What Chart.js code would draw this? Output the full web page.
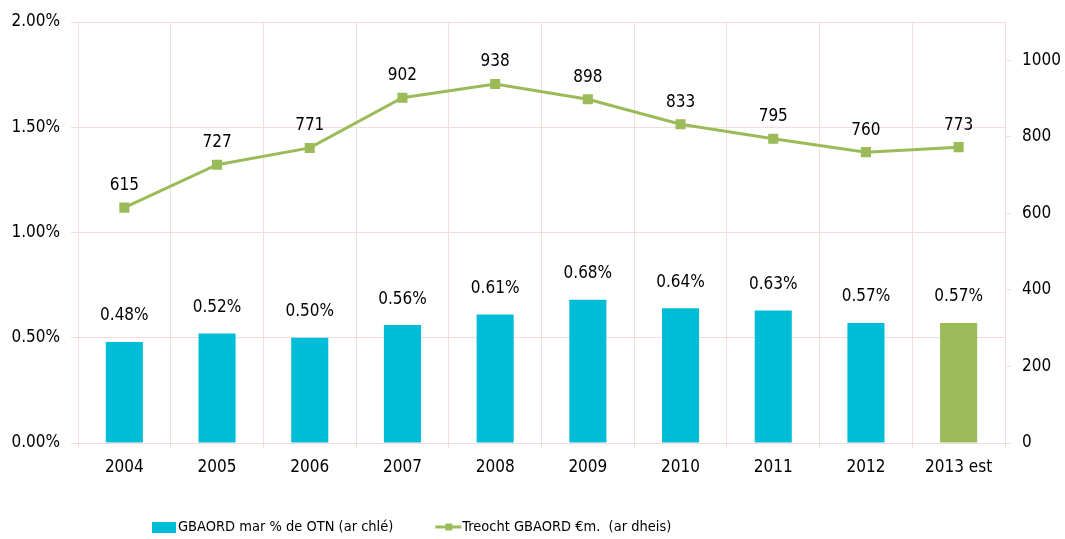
<!DOCTYPE html>
<html>
<head>
<meta charset="utf-8">
<script src="https://cdn.jsdelivr.net/npm/chart.js@4/dist/chart.umd.min.js"></script>
<style>
  html, body { margin: 0; padding: 0; background: #fff; }
  #wrap { width: 1065px; height: 539px; }
</style>
</head>
<body>
<div id="wrap"><canvas id="myChart" width="1065" height="539"></canvas></div>
<script>
'use strict';

let years = ["2004", "2005", "2006", "2007", "2008", "2009", "2010", "2011", "2012", "2013 est"];
let gbaordPct = [0.48, 0.52, 0.50, 0.56, 0.61, 0.68, 0.64, 0.63, 0.57, 0.57];
let gbaordMillions = [615, 727, 771, 902, 938, 898, 833, 795, 760, 773];
let leftTicks = [0, 0.5, 1.0, 1.5, 2.0];
let rightTicks = [0, 200, 400, 600, 800, 1000];
let seriesNames = ["GBAORD mar % de OTN (ar chlé)", "Treocht GBAORD €m.  (ar dheis)"];

let cyan = '#00BDD7';
let green = '#9BBB59';
let gridPink = '#F3DCDC';
let fontFamily = '"DejaVu Sans Condensed", "Liberation Sans", sans-serif';

function barColour(ctx) {
    return years[ctx.dataIndex].indexOf('est') >= 0 ? green : cyan;
}

// value labels above bars and points
let valueLabels = {
    id: 'valueLabels',
    afterDatasetsDraw(chart) {
        let ctx = chart.ctx;
        ctx.save();
        ctx.font = '17px ' + fontFamily;
        ctx.fillStyle = '#000';
        ctx.textAlign = 'center';
        ctx.textBaseline = 'middle';
        let barMeta = chart.getDatasetMeta(0);
        barMeta.data.forEach(function (bar, i) {
            ctx.fillText(gbaordPct[i].toFixed(2) + '%', bar.x, bar.y - 26);
        });
        let lineMeta = chart.getDatasetMeta(1);
        lineMeta.data.forEach(function (pt, i) {
            ctx.fillText(String(gbaordMillions[i]), pt.x, pt.y - 22);
        });
        ctx.restore();
    }
};

// legend under the chart
let bottomLegend = {
    id: 'bottomLegend',
    afterDraw(chart) {
        let ctx = chart.ctx;
        let area = chart.chartArea;
        let y = area.bottom + 84;
        let x = area.left + 74;
        ctx.save();
        ctx.font = '14.5px ' + fontFamily;
        ctx.textBaseline = 'middle';
        ctx.textAlign = 'left';

        ctx.fillStyle = cyan;
        ctx.fillRect(x, y - 5, 24, 11);
        x += 26;
        ctx.fillStyle = '#000';
        ctx.fillText(seriesNames[0], x, y);
        x += ctx.measureText(seriesNames[0]).width + 42;

        ctx.strokeStyle = green;
        ctx.lineWidth = 3;
        ctx.beginPath();
        ctx.moveTo(x, y);
        ctx.lineTo(x + 26, y);
        ctx.stroke();
        ctx.fillStyle = green;
        ctx.fillRect(x + 10, y - 3.5, 7, 7);
        x += 27;
        ctx.fillStyle = '#000';
        ctx.fillText(seriesNames[1], x, y);
        ctx.restore();
    }
};

let ctx = document.getElementById('myChart').getContext('2d');
let chart = new Chart(ctx, {
    data: {
        labels: years,
        datasets: [{
            type: 'bar',
            label: seriesNames[0],
            data: gbaordPct,
            backgroundColor: barColour,
            borderWidth: 0,
            categoryPercentage: 0.4,
            barPercentage: 1,
            yAxisID: 'yLeft',
            order: 1
        },
        {
            type: 'line',
            label: seriesNames[1],
            data: gbaordMillions,
            borderColor: green,
            backgroundColor: green,
            borderWidth: 3,
            pointStyle: 'rect',
            pointRadius: 5,
            pointHoverRadius: 5,
            tension: 0,
            yAxisID: 'yRight',
            order: 0
        }]
    },
    options: {
        responsive: false,
        animation: false,
        layout: { padding: { top: 22, bottom: 0, left: 0, right: 0 } },
        plugins: {
            legend: { display: false },
            tooltip: { enabled: false }
        },
        scales: {
            x: {
                offset: true,
                grid: { color: gridPink, offset: true, tickLength: 5, drawTicks: true },
                border: { display: false },
                ticks: { color: '#000', font: { family: fontFamily, size: 17 }, padding: 9, maxRotation: 0 },
                afterFit: function (scale) { scale.height = 96; }
            },
            yLeft: {
                position: 'left',
                min: 0,
                max: 2,
                grid: { color: gridPink, tickLength: 7 },
                border: { display: false },
                ticks: {
                    color: '#000',
                    font: { family: fontFamily, size: 17 },
                    padding: 11,
                    callback: function (v) { return v.toFixed(2) + '%'; }
                },
                afterBuildTicks: function (scale) {
                    scale.ticks = leftTicks.map(function (v) { return { value: v }; });
                },
                afterFit: function (scale) { scale.width = 78; }
            },
            yRight: {
                position: 'right',
                min: 0,
                max: 1100,
                grid: { color: gridPink, drawOnChartArea: false, tickLength: 6 },
                border: { display: false },
                ticks: {
                    color: '#000',
                    font: { family: fontFamily, size: 17 },
                    padding: 11,
                    callback: function (v) { return String(v); }
                },
                afterBuildTicks: function (scale) {
                    scale.ticks = rightTicks.map(function (v) { return { value: v }; });
                },
                afterFit: function (scale) { scale.width = 60; }
            }
        }
    },
    plugins: [valueLabels, bottomLegend]
});
</script>
</body>
</html>
